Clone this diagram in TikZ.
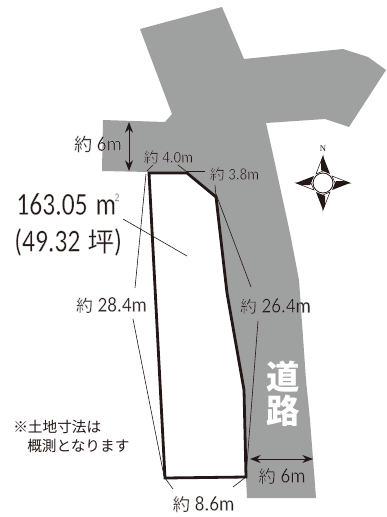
\documentclass[tikz,border=0pt]{standalone}
\usepackage{fontspec}
\setmainfont{Noto Sans CJK JP}
\newfontfamily\latf[FakeStretch=0.9]{Carlito}
\newfontfamily\bigf[FakeStretch=0.8]{Carlito}
\newfontfamily\nfont{Liberation Serif}
\definecolor{road}{HTML}{9FA0A0}
\definecolor{ink}{HTML}{231815}
\newcommand{\halo}[1]{\special{pdf:code 2 Tr 0.80 0.80 0.80 RG 0.14 w}#1\special{pdf:code 0 Tr 0 G}}
\newcommand{\slim}[1]{\special{pdf:code 2 Tr 1 1 1 RG 0.16 w}#1\special{pdf:code 0 Tr 0 G}}
\newcommand{\ya}[2]{{\fontsize{#1}{#1}\selectfont 約}\kern 0.22em{\latf #2}}
\tikzset{
  x=0.75pt,y=-0.75pt,
  lab/.style={inner sep=0pt,text=ink,font=\fontsize{#1}{#1}\selectfont},
  thinl/.style={draw=ink,line width=0.45pt},
  plot/.style={draw=ink,line width=2.1pt,line join=miter},
  dim/.style={draw=ink,line width=0.75pt,{Stealth[length=8pt,width=6pt]}-{Stealth[length=8pt,width=6pt]}},
}
\usetikzlibrary{arrows.meta}
\begin{document}
\begin{tikzpicture}
\useasboundingbox (0,0) rectangle (386,517);
\fill[white] (0,0) rectangle (386,517);
\fill[road] (140,29)--(222,7)--(244,59)--(343,49)--(368,57)--(386,70)--(349,127)--(325,119)--(266,123)--(272,150)--(290,233)--(299,280)--(306,380)--(310,420)--(316,498)--(247,498)--(246,477)--(245,393)--(227,293)--(216,197)--(187,172)--(149,172)--(102,171)--(103,120)--(165,122)--(172,114)--cycle;
% plot outline
\coordinate (nw) at (149,173);
\coordinate (ne) at (187,173);
\coordinate (ea) at (216,197);
\coordinate (eb) at (227,293);
\coordinate (ec) at (244,390);
\coordinate (se) at (246,477);
\coordinate (sw) at (165,478);
\draw[plot] (nw)--(ne)--(ea)--(eb)--(ec)--(se)--(sw)--cycle;
% labels
\node[lab=16] (l6a) at (98,144) {\slim{\ya{13.5}{6m}}};
\node[lab=12.5] (l40) at (168.5,157) {\halo{\ya{11}{4.0m}}};
\node[lab=12.5] (l38) at (234.5,174) {\halo{\ya{11}{3.8m}}};
\node[lab=16] (l284) at (111.5,305) {\slim{\ya{12.5}{28.4m}}};
\node[lab=16] (l264) at (275.5,306) {\halo{\ya{12.5}{26.4m}}};
\node[lab=16] (l86) at (203.5,504) {\slim{\ya{13}{8.6m}}};
\node[lab=16] (l6b) at (282,476) {\halo{\ya{13}{6m}}};
\node[lab=24,anchor=west] (area) at (16,204) {\slim{\bigf 163.05\kern0.25em m\kern-0.05em\raisebox{0.42em}{\fontsize{9}{9}\selectfont 2}}};
\node[lab=24,anchor=west] (tsubo) at (14,242) {\slim{\bigf (49.32\kern0.22em{\fontsize{20}{20}\selectfont\rmfamily\normalfont 坪})}};
\node[lab=11,anchor=west] (note1) at (13,427) {※土地寸法は};
\node[lab=11,anchor=west] (note2) at (27,446) {概測となります};
\node[inner sep=0pt,text=white,font=\fontsize{25}{25}\selectfont\bfseries] (r1) at (283,377) {道};
\node[inner sep=0pt,text=white,font=\fontsize{25}{25}\selectfont\bfseries] (r2) at (283,411) {路};
% dimension arrows
\coordinate (a1) at (129,122); \coordinate (a2) at (129,171);
\draw[dim] (a1)--(a2);
\coordinate (b1) at (250,459); \coordinate (b2) at (313,459);
\draw[dim] (b1)--(b2);
% leaders
\coordinate (p1) at (146,174); \coordinate (p2) at (135,288);
\coordinate (p3) at (133,319); \coordinate (p4) at (164,476);
\draw[thinl] (p1)--(p2); \draw[thinl] (p3)--(p4);
\coordinate (q1) at (216,194); \coordinate (q2) at (251,287);
\coordinate (q3) at (258,321); \coordinate (q4) at (246,477);
\draw[thinl] (q1)--(q2); \draw[thinl] (q3)--(q4);
\coordinate (u1) at (147,171); \coordinate (u2) at (153,165);
\coordinate (u3) at (178,165); \coordinate (u4) at (187,172);
\draw[thinl] (u1)--(u2); \draw[thinl] (u3)--(u4);
\coordinate (v1) at (187,171); \coordinate (v2) at (205,171);
\coordinate (v3) at (215,185); \coordinate (v4) at (216,197);
\draw[thinl] (v1)--(v2); \draw[thinl] (v3)--(v4);
\coordinate (w1) at (165,478); \coordinate (w2) at (173,489);
\coordinate (w3) at (246,477); \coordinate (w4) at (233,487);
\draw[thinl] (w1)--(w2); \draw[thinl] (w3)--(w4);
\coordinate (z1) at (123,219); \coordinate (z2) at (187,256);
\draw[thinl] (z1)--(z2);
% compass
\begin{scope}[shift={(323,183)}]
\foreach \a in {0,90,180,270}{
  \begin{scope}[rotate=\a]
    \filldraw[fill=white,draw=ink,line width=0.4pt] (0,-27)--(-7,-9)--(0,-12)--cycle;
    \fill[ink] (0,-27)--(7,-9)--(0,-12)--cycle;
    \fill[ink] (0,-27)--(-2,-22)--(-2,-13)--(0,-12)--cycle;
  \end{scope}
}
\filldraw[fill=white,draw=ink,line width=0.6pt] (0,0) circle (10);
\end{scope}
\node[inner sep=0pt,text=ink,font=\nfont\fontsize{6.5}{6.5}\selectfont] (north) at (323,149) {N};
\end{tikzpicture}
\end{document}
